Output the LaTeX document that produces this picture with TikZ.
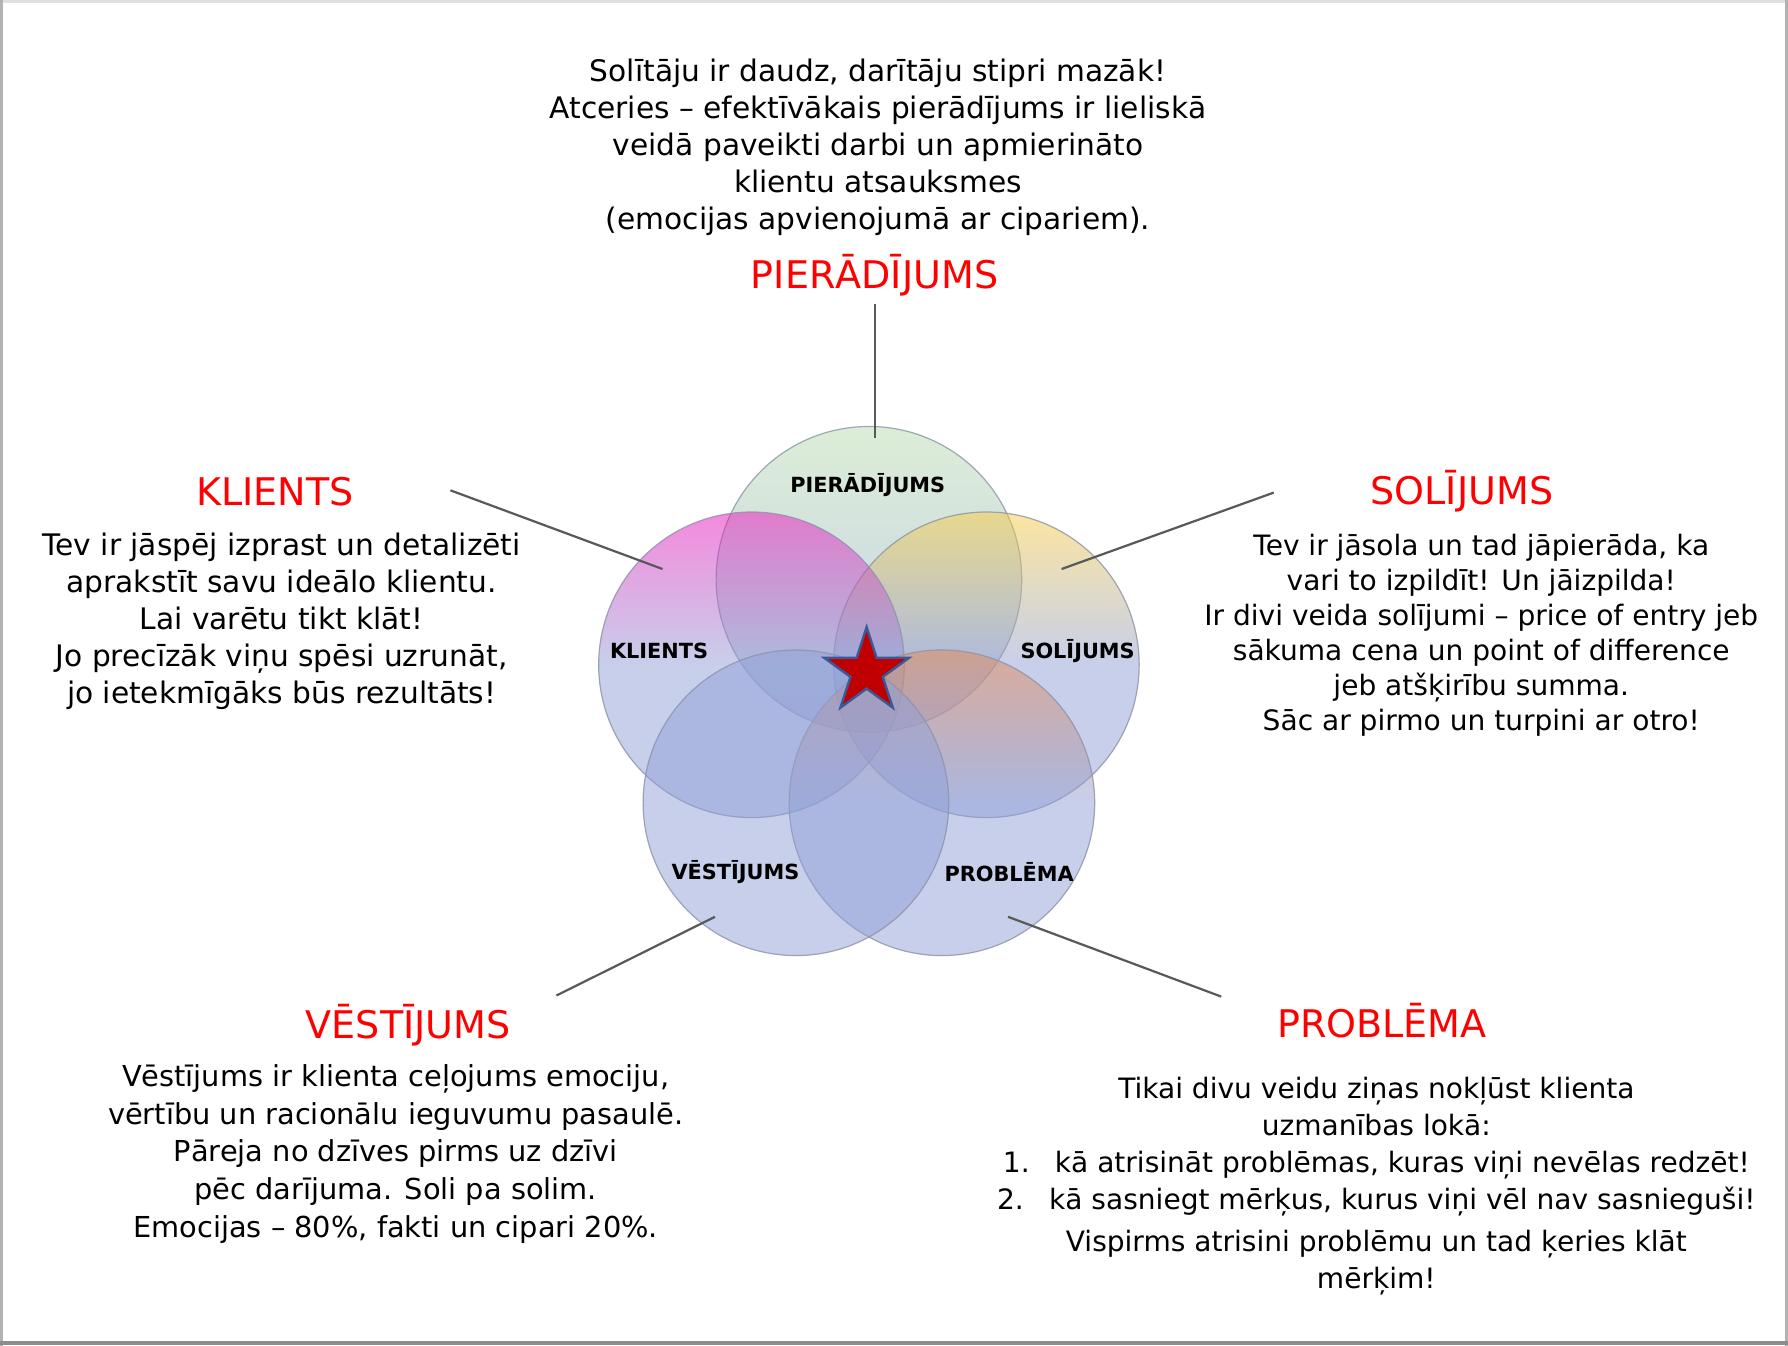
\documentclass[tikz,border=0pt]{standalone}
\usepackage{fontspec}
\setmainfont{DejaVu Sans}
\usetikzlibrary{shapes.geometric,positioning,calc}
\definecolor{base}{HTML}{91A0D7}
\definecolor{heading}{HTML}{FF0000}
\definecolor{linegray}{HTML}{595959}
\definecolor{ringgray}{HTML}{8C93A8}
\definecolor{pinktop}{HTML}{EC14BC}
\definecolor{goldtop}{HTML}{F9CD41}
\definecolor{peachtop}{HTML}{EB874B}
\definecolor{greentop}{HTML}{B9DDAF}
\definecolor{starred}{HTML}{C00000}
\definecolor{starline}{HTML}{3B5998}

\begin{document}
\begin{tikzpicture}[x=0.1mm, y=-0.1mm,
  title/.style={font=\fontsize{9.5}{11}\selectfont, text=heading},
  body/.style={font=\fontsize{7.4}{9.25}\selectfont, align=center},
  ring/.style={circle, draw=ringgray, line width=0.3pt, fill opacity=0.5, draw opacity=0.8, minimum size=26.8mm, inner sep=0pt},
  ringlabel/.style={font=\fontsize{5.2}{6}\selectfont\bfseries},
  leader/.style={draw=linegray, line width=0.55pt}]
  \useasboundingbox (0,0) rectangle (1568,1180);
  % slide frame
  \fill[white] (0,0) rectangle (1568,1180);
  \draw[black!12, line width=0.8pt] (0,1.5) -- (1568,1.5);
  \draw[black!30, line width=0.8pt] (1.5,0) -- (1.5,1180);
  \draw[black!30, line width=0.6pt] (1566.8,0) -- (1566.8,1180);
  \draw[black!45, line width=1pt] (0,1178) -- (1568,1178);

  % five overlapping circles
  \node[ring, top color=greentop, bottom color=base] (pierad) at (762,508) {};
  \node[ring, top color=goldtop, bottom color=base, middle color=base] (solij) at (865,583) {};
  \node[ring, top color=pinktop, bottom color=base, middle color=base] (klien) at (659,583) {};
  \node[ring, top color=peachtop, bottom color=base, middle color=base] (probl) at (826,704) {};
  \node[ring, fill=base] (vestij) at (698,704) {};

  \node[ringlabel] (pieradL) at (761,425) {PIERĀDĪJUMS};
  \node[ringlabel] (klienL) at (578,571) {KLIENTS};
  \node[ringlabel] (solijL) at (945,571) {SOLĪJUMS};
  \node[ringlabel] (vestijL) at (645,765) {VĒSTĪJUMS};
  \node[ringlabel] (problL) at (885,765) {PROBLĒMA};

  % star in the middle
  \node[star, star points=5, star point ratio=2.618, minimum size=7.8mm, inner sep=0pt,
        fill=starred, draw=starline, line width=0.6pt] (zvaigzne) at (760,589) {};

  % headings
  \node[title] (pieradT) at (767,241) {PIERĀDĪJUMS};
  \node[title] (klienT) at (241,431) {KLIENTS};
  \node[title] (solijT) at (1282,431) {SOLĪJUMS};
  \node[title] (vestijT) at (358,899) {VĒSTĪJUMS};
  \node[title] (problT) at (1212,895) {PROBLĒMA};

  % text blocks
  \node[body] (pieradX) at (770,129) {Solītāju ir daudz, darītāju stipri mazāk!\\
    Atceries – efektīvākais pierādījums ir lieliskā\\
    veidā paveikti darbi un apmierināto\\
    klientu atsauksmes\\
    (emocijas apvienojumā ar cipariem).};
  \node[body] (klienX) at (247,545) {Tev ir jāspēj izprast un detalizēti\\
    aprakstīt savu ideālo klientu.\\
    Lai varētu tikt klāt!\\
    Jo precīzāk viņu spēsi uzrunāt,\\
    jo ietekmīgāks būs rezultāts!};
  \node[body, font=\fontsize{7.0}{8.7}\selectfont] (solijX) at (1299,557) {Tev ir jāsola un tad jāpierāda, ka\\
    vari to izpildīt! Un jāizpilda!\\
    Ir divi veida solījumi – price of entry jeb\\
    sākuma cena un point of difference\\
    jeb atšķirību summa.\\
    Sāc ar pirmo un turpini ar otro!};
  \node[body, font=\fontsize{7.2}{9.4}\selectfont] (vestijX) at (347,1012) {Vēstījums ir klienta ceļojums emociju,\\
    vērtību un racionālu ieguvumu pasaulē.\\
    Pāreja no dzīves pirms uz dzīvi\\
    pēc darījuma. Soli pa solim.\\
    Emocijas – 80\%, fakti un cipari 20\%.};
  \node[body, font=\fontsize{7.0}{9.25}\selectfont] (problX) at (1207,1040) {Tikai divu veidu ziņas nokļūst klienta\\
    uzmanības lokā:\\
    1.\hspace{0.9em}kā atrisināt problēmas, kuras viņi nevēlas redzēt!\\
    2.\hspace{0.9em}kā sasniegt mērķus, kurus viņi vēl nav sasnieguši!\\[1.2pt]
    Vispirms atrisini problēmu un tad ķeries klāt\\
    mērķim!};

  % leader lines
  \coordinate (pA) at (767,267);   \coordinate (pB) at (767,384);
  \coordinate (kA) at (395,430);   \coordinate (kB) at (581,499);
  \coordinate (sA) at (1117,432);  \coordinate (sB) at (931,499);
  \coordinate (vA) at (488,873);   \coordinate (vB) at (627,804);
  \coordinate (prA) at (1071,874); \coordinate (prB) at (884,804);
  \draw[leader] (pA) -- (pB);
  \draw[leader] (kA) -- (kB);
  \draw[leader] (sA) -- (sB);
  \draw[leader] (vA) -- (vB);
  \draw[leader] (prA) -- (prB);
\end{tikzpicture}
\end{document}
